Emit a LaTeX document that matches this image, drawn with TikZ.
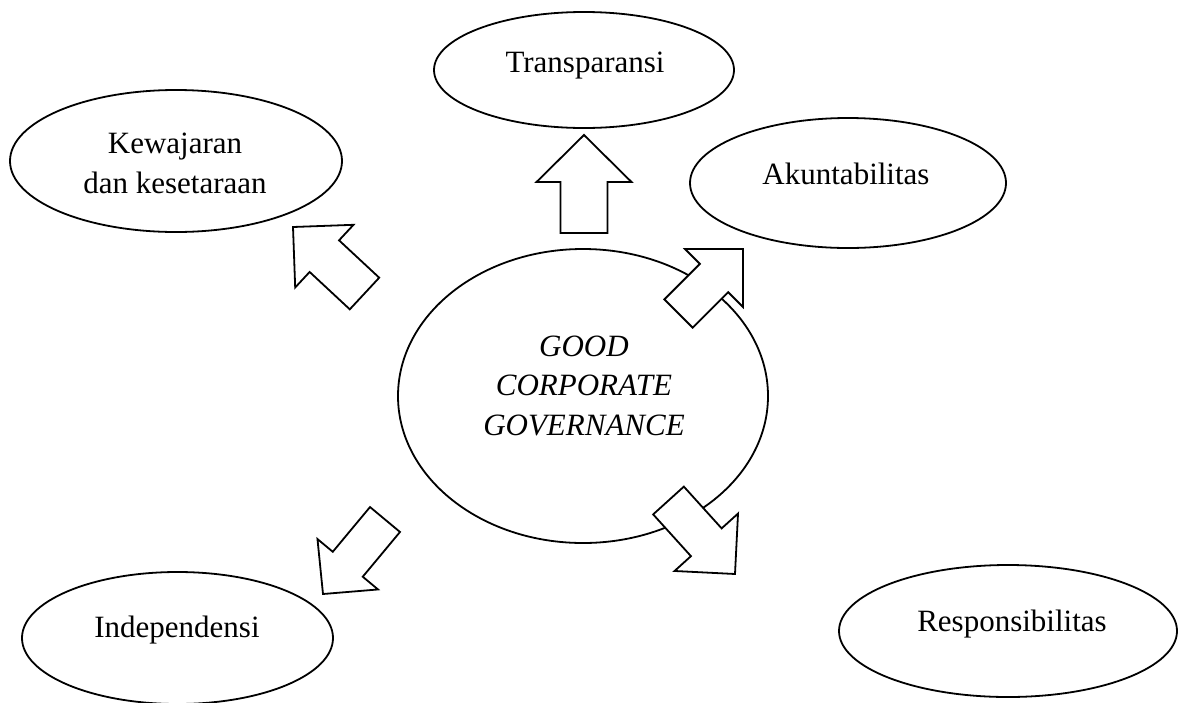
\documentclass[tikz,border=0pt]{standalone}
\usepackage{fontspec}
\setmainfont{Liberation Serif}
\usetikzlibrary{shapes.geometric,calc}

% Block arrow: name, tip, tail centre, head half-width, head length, shaft half-width
\newcommand\blockarrow[6]{%
  \coordinate (#1tip) at #2;
  \coordinate (#1tail) at #3;
  \coordinate (#1base) at ($(#1tip)!#5pt!(#1tail)$);
  \draw[blk] (#1tip)
    -- ($(#1base)!#4pt!90:(#1tip)$)
    -- ($(#1base)!#6pt!90:(#1tip)$)
    -- ($(#1tail)!#6pt!90:(#1tip)$)
    -- ($(#1tail)!#6pt!-90:(#1tip)$)
    -- ($(#1base)!#6pt!-90:(#1tip)$)
    -- ($(#1base)!#4pt!-90:(#1tip)$)
    -- cycle;}

\begin{document}
\begin{tikzpicture}[x=1pt,y=-1pt,
  oval/.style={ellipse, draw, line width=1.8pt, inner sep=0pt},
  lbl/.style={anchor=base, inner sep=0pt, font=\fontsize{31}{40}\selectfont},
  blk/.style={draw, fill=white, line width=1.8pt, line join=miter}]
\useasboundingbox (0,0) rectangle (1183,702);

% ellipses
\node[oval, minimum width=300pt, minimum height=116pt] (trans) at (584,70) {};
\node[oval, minimum width=316pt, minimum height=130pt] (akun) at (848,183) {};
\node[oval, minimum width=332pt, minimum height=142pt] (kew) at (176,161) {};
\node[oval, minimum width=370pt, minimum height=294pt] (gcg) at (583,396) {};
\node[oval, minimum width=311pt, minimum height=132pt] (ind) at (177.5,638) {};
\node[oval, minimum width=338pt, minimum height=132pt] (res) at (1008,631) {};

% block arrows pointing outwards
\blockarrow{up}{(584,135)}{(584,233)}{47.5}{47}{23.5}
\blockarrow{nw}{(293,227)}{(364.5,293.5)}{42.8}{42.8}{21.6}
\blockarrow{ne}{(743,249)}{(678.5,313.5)}{41}{41}{20}
\blockarrow{sw}{(323,594)}{(385,519.5)}{39.4}{38.7}{19.5}
\blockarrow{se}{(735,574)}{(668.5,500.5)}{42.8}{42.8}{20.7}

% labels
\node[lbl] (transtxt) at (585,72) {Transparansi};
\node[lbl] (akuntxt) at (846,184) {Akuntabilitas};
\node[lbl] (kewtxt) at (175,153) {\begin{tabular}[t]{@{}c@{}}Kewajaran\\dan kesetaraan\end{tabular}};
\node[lbl, font=\fontsize{31}{39.5}\selectfont\itshape] (gcgtxt) at (584,356)
  {\begin{tabular}[t]{@{}c@{}}GOOD\\CORPORATE\\GOVERNANCE\end{tabular}};
\node[lbl] (indtxt) at (177,637) {Independensi};
\node[lbl] (restxt) at (1012,631) {Responsibilitas};
\end{tikzpicture}
\end{document}
